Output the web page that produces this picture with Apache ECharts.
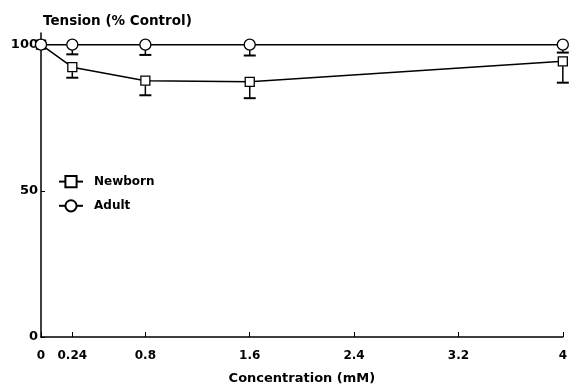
<!DOCTYPE html>
<html lang="en">
<head>
    <meta charset="UTF-8">
    <script src="https://cdn.jsdelivr.net/npm/echarts@6/dist/echarts.min.js"></script>
    <title>Tension vs Concentration</title>
</head>
<body style="margin:0;background:#fff">
<div id="main" style="width: 570px;height:390px;"></div>
<script type="text/javascript">
    var conc = [0, 0.24, 0.8, 1.6, 4];
    var xTicks = [0, 0.24, 0.8, 1.6, 2.4, 3.2, 4];
    var yTicks = [0, 50, 100];
    var newborn = [100, 92.3, 87.7, 87.3, 94.3];
    var newbornLow = [100, 88.7, 82.7, 81.7, 87];
    var adult = [100, 100, 100, 100, 100];
    var adultLow = [100, 96.7, 96.5, 96.3, 97.3];

    var font = 'DejaVu Sans';
    var myChart = echarts.init(document.getElementById('main'));

    function pairs(ys) {
        return conc.map(function (x, i) { return [x, ys[i]]; });
    }
    function errData(ys, lows) {
        var out = [];
        conc.forEach(function (x, i) {
            if (lows[i] < ys[i]) out.push([x, ys[i], lows[i]]);
        });
        return out;
    }
    // 误差线：从点向下画到下限，加横帽
    function errBar(params, api) {
        var p = api.coord([api.value(0), api.value(1)]);
        var q = api.coord([api.value(0), api.value(2)]);
        var w = 6;
        return {
            type: 'group',
            children: [
                { type: 'line', shape: { x1: p[0], y1: p[1] + 5, x2: q[0], y2: q[1] }, style: { stroke: '#000', lineWidth: 1.5 } },
                { type: 'line', shape: { x1: q[0] - w, y1: q[1], x2: q[0] + w, y2: q[1] }, style: { stroke: '#000', lineWidth: 2 } }
            ]
        };
    }

    var option = {
        backgroundColor: '#fff',
        animation: false,
        textStyle: { fontFamily: font },
        title: {
            text: 'Tension (% Control)',
            left: 38,
            top: 9,
            textStyle: { fontFamily: font, fontSize: 13.5, fontWeight: 'bold', color: '#000' }
        },
        grid: { left: 41, right: 3, top: 33, bottom: 45 },
        legend: {
            orient: 'vertical',
            left: 53,
            top: 170,
            itemWidth: 24,
            itemHeight: 14,
            itemGap: 11,
            textStyle: { fontFamily: font, fontSize: 12, color: '#000', fontWeight: 'bold', padding: [0, 0, 0, 6] },
            data: ['Newborn', 'Adult']
        },
        xAxis: {
            type: 'value',
            min: 0,
            max: 4,
            name: 'Concentration (mM)',
            nameLocation: 'middle',
            nameGap: 35,
            nameTextStyle: { fontFamily: font, fontSize: 13, fontWeight: 'bold', color: '#000' },
            splitLine: { show: false },
            axisLine: { lineStyle: { color: '#000', width: 1.5 } },
            axisTick: { inside: true, length: 5, customValues: xTicks, lineStyle: { color: '#000' } },
            axisLabel: { customValues: xTicks, color: '#000', fontSize: 12, fontWeight: 'bold', fontFamily: font, margin: 13 }
        },
        yAxis: {
            type: 'value',
            min: 0,
            max: 104,
            splitLine: { show: false },
            axisLine: { lineStyle: { color: '#000', width: 1.5 } },
            axisTick: { inside: true, length: 4, customValues: yTicks, lineStyle: { color: '#000' } },
            axisLabel: { customValues: yTicks, color: '#000', fontSize: 13, fontWeight: 'bold', fontFamily: font, margin: 3 }
        },
        series: [{
            name: 'Newborn',
            type: 'line',
            data: pairs(newborn),
            symbol: 'rect',
            symbolSize: 9,
            itemStyle: { color: '#fff', borderColor: '#000', borderWidth: 1.3 },
            lineStyle: { color: '#000', width: 1.5 },
            z: 3
        }, {
            name: 'Adult',
            type: 'line',
            data: pairs(adult),
            symbol: 'circle',
            symbolSize: 11,
            itemStyle: { color: '#fff', borderColor: '#000', borderWidth: 1.3 },
            lineStyle: { color: '#000', width: 1.5 },
            z: 3
        }, {
            type: 'custom',
            renderItem: errBar,
            data: errData(newborn, newbornLow),
            z: 2
        }, {
            type: 'custom',
            renderItem: errBar,
            data: errData(adult, adultLow),
            z: 2
        }]
    };

    myChart.setOption(option);
</script>
</body>
</html>
